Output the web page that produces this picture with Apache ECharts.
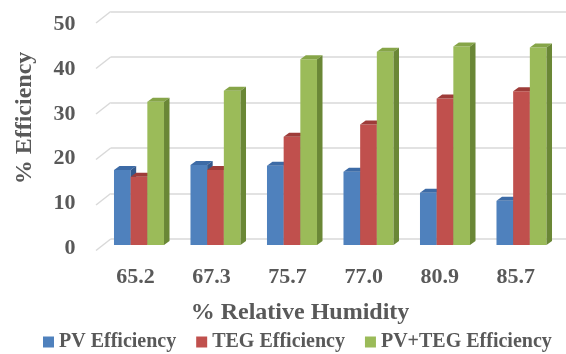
<!DOCTYPE html>
<html>
<head>
<meta charset="utf-8">
<script src="https://cdn.jsdelivr.net/npm/echarts@6/dist/echarts.min.js"></script>
<style>
  html, body { margin: 0; padding: 0; background: #fff; }
  #chart { width: 566px; height: 354px; }
</style>
</head>
<body>
<div id="chart"></div>
<script>
// Relative humidity categories (x axis)
const humidity = ['65.2', '67.3', '75.7', '77.0', '80.9', '85.7'];
// Efficiency values (%)
const pvEfficiency = [16.5, 17.6, 17.4, 16.1, 11.5, 9.7];
const tegEfficiency = [15.0, 16.5, 23.8, 26.5, 32.2, 33.8];
const combinedEfficiency = [31.5, 33.9, 40.8, 42.5, 43.6, 43.4];
// Value axis ticks
const yTicks = [0, 10, 20, 30, 40, 50];
const seriesNames = ['PV Efficiency', 'TEG Efficiency', 'PV+TEG Efficiency'];

const FONT = "'Liberation Serif', 'Times New Roman', serif";
const TEXT = '#595959';
const GRID_LINE = '#d9d9d9';

// Face colours for each series: front, top, side
const palette = [
  { front: '#4F81BD', top: '#3D6BA6', side: '#33598C' },
  { front: '#C0504D', top: '#9E3C39', side: '#8A3331' },
  { front: '#9BBB59', top: '#86A548', side: '#6A8736' }
];

// Depth offsets for the 3D look
const DX = 5.5, DY = 4;
const BAR_FRAC = 0.218;

function bar3d(k) {
  const col = palette[k];
  return function (params, api) {
    const c = api.coord([api.value(0), api.value(1)]);
    const base = api.coord([api.value(0), 0]);
    const band = api.size([1, 0])[0];
    const w = band * BAR_FRAC;
    const x0 = c[0] - 1.5 * w + k * w;
    const x1 = x0 + w;
    const yt = c[1], yb = base[1];
    return {
      type: 'group',
      children: [
        { type: 'rect', shape: { x: x0, y: yt, width: w, height: yb - yt }, style: { fill: col.front } },
        { type: 'polygon', shape: { points: [[x0, yt], [x1, yt], [x1 + DX, yt - DY], [x0 + DX, yt - DY]] }, style: { fill: col.top } },
        { type: 'polygon', shape: { points: [[x1, yt], [x1 + DX, yt - DY], [x1 + DX, yb - DY], [x1, yb]] }, style: { fill: col.side } }
      ]
    };
  };
}

const seriesData = [pvEfficiency, tegEfficiency, combinedEfficiency];

const chart = echarts.init(document.getElementById('chart'), null, { renderer: 'canvas' });

const gridBase = { containLabel: false, outerBoundsMode: 'none' };

chart.setOption({
  animation: false,
  backgroundColor: '#fff',
  grid: [
    // back wall with gridlines
    Object.assign({ left: 110.7, right: 0, top: 11.5, bottom: 115 }, gridBase),
    // bars
    Object.assign({ left: 100.75, right: 6.25, top: 17.5, bottom: 109 }, gridBase),
    // axis labels (front plane)
    Object.assign({ left: 97.4, right: 12.2, top: 24.5, bottom: 106 }, gridBase)
  ],
  xAxis: [
    { gridIndex: 0, type: 'value', min: 0, max: 1, show: false },
    { gridIndex: 1, type: 'category', data: humidity, show: false },
    {
      gridIndex: 2, type: 'category', data: humidity,
      axisLine: { show: false }, axisTick: { show: false }, splitLine: { show: false },
      axisLabel: { margin: 18, color: TEXT, fontFamily: FONT, fontSize: 22, fontWeight: 'bold' }
    }
  ],
  yAxis: [
    {
      gridIndex: 0, type: 'value', min: 0, max: 50, interval: 10,
      axisLine: { show: false }, axisTick: { show: false }, axisLabel: { show: false },
      splitLine: { show: true, lineStyle: { color: GRID_LINE, width: 1.5 } }
    },
    { gridIndex: 1, type: 'value', min: 0, max: 50, show: false },
    {
      gridIndex: 2, type: 'value', min: 0, max: 50, interval: 10,
      axisLine: { show: false }, axisTick: { show: false }, splitLine: { show: false },
      axisLabel: { margin: 22, color: TEXT, fontFamily: FONT, fontSize: 22, fontWeight: 'bold' }
    }
  ],
  legend: {
    data: seriesNames,
    left: 38, top: 327,
    itemWidth: 11, itemHeight: 11, itemGap: 20,
    icon: 'rect',
    textStyle: { color: TEXT, fontFamily: FONT, fontSize: 20, fontWeight: 'bold' }
  },
  graphic: [
    {
      type: 'text', x: 25, y: 118, rotation: Math.PI / 2,
      style: { text: '% Efficiency', fill: TEXT, font: 'bold 24px ' + FONT, align: 'center', verticalAlign: 'middle' }
    },
    {
      type: 'text', x: 300, y: 313,
      style: { text: '% Relative Humidity', fill: TEXT, font: 'bold 24px ' + FONT, align: 'center', verticalAlign: 'middle' }
    }
  ],
  series: [
    // slanted gridline segments at the left edge of the wall
    {
      type: 'custom', xAxisIndex: 0, yAxisIndex: 0, silent: true,
      data: yTicks.map(v => [0, v]),
      renderItem: function (params, api) {
        const p = api.coord([0, api.value(1)]);
        return {
          type: 'line',
          shape: { x1: p[0] - 14.7, y1: p[1] + 11.5, x2: p[0], y2: p[1] },
          style: { stroke: GRID_LINE, lineWidth: 1.5 }
        };
      }
    }
  ].concat(seriesNames.map((name, k) => ({
    name: name,
    type: 'custom',
    xAxisIndex: 1, yAxisIndex: 1,
    itemStyle: { color: palette[k].front },
    data: seriesData[k].map((v, i) => [i, v]),
    encode: { x: 0, y: 1 },
    renderItem: bar3d(k)
  })))
});
</script>
</body>
</html>
